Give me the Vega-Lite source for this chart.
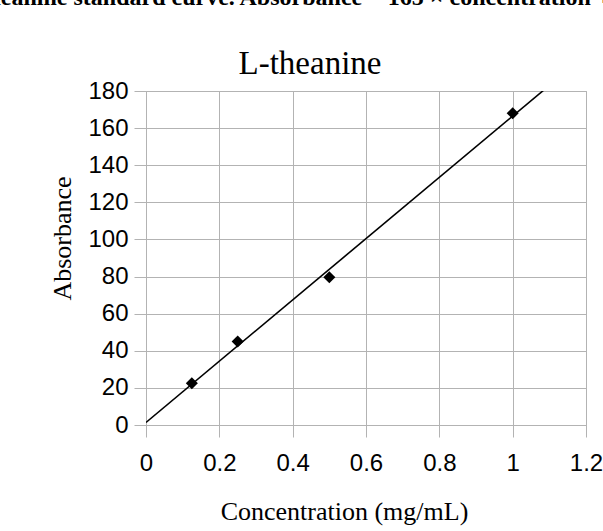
{
  "$schema": "https://vega.github.io/schema/vega-lite/v6.json",
  "width": 440,
  "height": 334,
  "autosize": {"type": "none"},
  "padding": {"left": 146, "top": 91, "right": 17, "bottom": 106},
  "background": "white",
  "config": {"view": {"stroke": "#b3b3b3", "strokeWidth": 1}},
  "data": {
    "values": [
      {"concentration": 0.125, "absorbance": 22.5},
      {"concentration": 0.25, "absorbance": 45},
      {"concentration": 0.5, "absorbance": 79.6},
      {"concentration": 1, "absorbance": 168}
    ]
  },
  "layer": [
    {
      "mark": {"type": "point", "shape": "diamond", "filled": true, "size": 145, "color": "black", "opacity": 1},
      "encoding": {
        "x": {
          "field": "concentration", "type": "quantitative",
          "scale": {"domain": [0, 1.2], "nice": false},
          "axis": {
            "orient": "bottom",
            "values": [0, 0.2, 0.4, 0.6, 0.8, 1, 1.2],
            "format": "~g",
            "grid": true, "gridColor": "#b3b3b3", "gridWidth": 1,
            "domainColor": "#b3b3b3", "domainWidth": 1,
            "tickColor": "#b3b3b3", "tickSize": 12, "tickWidth": 1,
            "labelFont": "Liberation Sans", "labelFontSize": 24, "labelColor": "black",
            "labelPadding": 14, "labelFlush": false, "labelOverlap": false,
            "title": "Concentration (mg/mL)",
            "titleFont": "Liberation Serif", "titleFontSize": 26, "titleFontWeight": "normal", "titleColor": "black",
            "titleX": 198, "titleY": 94, "titleAlign": "center", "titleBaseline": "alphabetic"
          }
        },
        "y": {
          "field": "absorbance", "type": "quantitative",
          "scale": {"domain": [0, 180], "nice": false},
          "axis": {
            "orient": "left",
            "values": [0, 20, 40, 60, 80, 100, 120, 140, 160, 180],
            "grid": true, "gridColor": "#b3b3b3", "gridWidth": 1,
            "domainColor": "#b3b3b3", "domainWidth": 1,
            "tickColor": "#b3b3b3", "tickSize": 12, "tickWidth": 1,
            "labelFont": "Liberation Sans", "labelFontSize": 24, "labelColor": "black",
            "labelPadding": 6, "labelFlush": false, "labelOverlap": false,
            "title": "Absorbance",
            "titleFont": "Liberation Serif", "titleFontSize": 26, "titleFontWeight": "normal", "titleColor": "black",
            "titleAngle": -90, "titleX": -76, "titleY": 147, "titleAlign": "center", "titleBaseline": "alphabetic"
          }
        }
      }
    },
    {
      "transform": [{"regression": "absorbance", "on": "concentration", "extent": [0, 1.2]}],
      "mark": {"type": "line", "color": "black", "strokeWidth": 1.6, "clip": true},
      "encoding": {
        "x": {
          "field": "concentration", "type": "quantitative",
          "axis": {
            "orient": "top", "labels": false, "ticks": false, "domain": false, "grid": false,
            "title": "L-theanine",
            "titleFont": "Liberation Serif", "titleFontSize": 33, "titleFontWeight": "normal", "titleColor": "black",
            "titleX": 163.5, "titleY": -18, "titleAlign": "center", "titleBaseline": "alphabetic"
          }
        },
        "y": {
          "field": "absorbance", "type": "quantitative",
          "axis": {
            "orient": "right", "labels": false, "ticks": false, "domain": false, "grid": false,
            "title": "L-theanine standard curve. Absorbance = 165 × concentration + 1.4",
            "titleFont": "Liberation Serif", "titleFontSize": 24, "titleFontWeight": "bold", "titleColor": "black",
            "titleAngle": 0, "titleX": -631, "titleY": -86.5, "titleAlign": "left", "titleBaseline": "alphabetic"
          }
        }
      }
    }
  ],
  "resolve": {"axis": {"x": "independent", "y": "independent"}}
}
